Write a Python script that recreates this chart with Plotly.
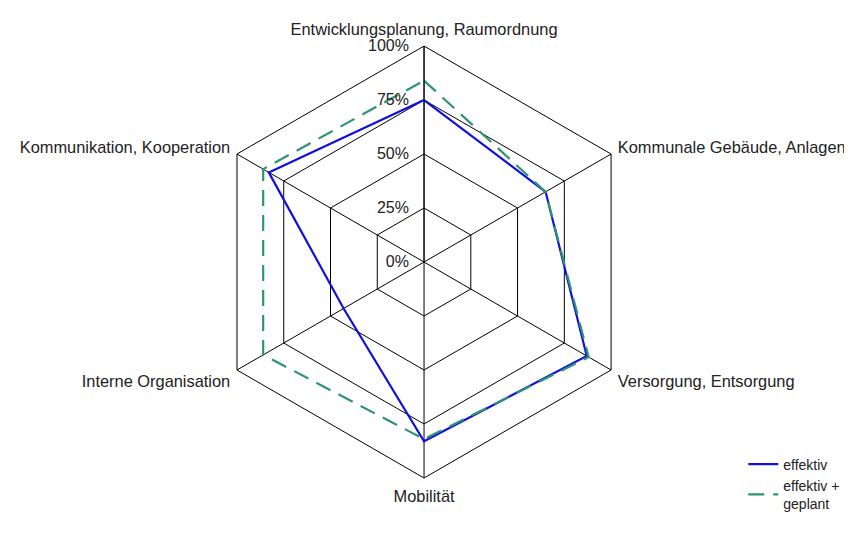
import plotly.graph_objects as go

categories = [
    "Entwicklungsplanung, Raumordnung",
    "Kommunale Gebäude, Anlagen",
    "Versorgung, Entsorgung",
    "Mobilität",
    "Interne Organisation",
    "Kommunikation, Kooperation",
]
effektiv = [0.75, 0.65, 0.87, 0.83, 0.43, 0.83]
effektiv_geplant = [0.84, 0.65, 0.88, 0.82, 0.86, 0.86]
tick_vals = [0, 0.25, 0.5, 0.75, 1.0]
tick_text = ["0%", "25%", "50%", "75%", "100%"]

def closed(v):
    return list(v) + [v[0]]

fig = go.Figure()
fig.add_trace(go.Scatterpolar(
    r=closed(effektiv), theta=closed(categories), mode="lines",
    name="effektiv", line=dict(color="#1010e0", width=2.2),
))
fig.add_trace(go.Scatterpolar(
    r=closed(effektiv_geplant), theta=closed(categories), mode="lines",
    name="effektiv +<br>geplant", line=dict(color="#2f9471", width=2.2, dash="16px,9px"),
))

fig.update_layout(
    width=852, height=534,
    margin=dict(l=0, r=0, t=0, b=0),
    paper_bgcolor="white",
    font=dict(family="Liberation Sans, Arial, sans-serif", size=16, color="#222222"),
    polar=dict(
        domain=dict(x=[0.2348, 0.7418], y=[0.1198, 0.9288]),
        bgcolor="white",
        gridshape="linear",
        angularaxis=dict(
            rotation=90, direction="clockwise",
            showline=True, linecolor="black", linewidth=1,
            gridcolor="black", gridwidth=1,
            ticks="outside", ticklen=4, tickcolor="rgba(0,0,0,0)",
            tickfont=dict(size=16.4, color="#222222"),
        ),
        radialaxis=dict(
            range=[0, 1], angle=90, tickangle=90,
            tickvals=tick_vals, ticktext=tick_text,
            side="counterclockwise",
            showline=True, linecolor="black", linewidth=1,
            gridcolor="black", gridwidth=1,
            ticks="outside", ticklen=9, tickcolor="rgba(0,0,0,0)",
            tickfont=dict(size=16, color="#222222"),
        ),
    ),
    legend=dict(
        x=0.863, y=0.175, xanchor="left", yanchor="top",
        font=dict(size=14, color="#222222"),
        tracegroupgap=22,
    ),
)

fig.write_html("out.html")
